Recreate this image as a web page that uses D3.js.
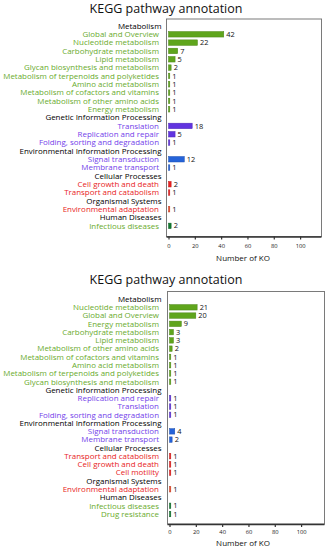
<!DOCTYPE html>
<html>
<head>
<meta charset="utf-8">
<script src="https://cdn.jsdelivr.net/npm/d3@7"></script>
<style>
  body { margin: 0; background: #fff; }
  svg { display: block; font-family: "Open Sans", "DejaVu Sans", sans-serif; }
</style>
</head>
<body>
<svg id="chart" width="329" height="550"></svg>
<script>
// 数据：上图
const pathways1 = ["Global and Overview", "Nucleotide metabolism", "Carbohydrate metabolism", "Lipid metabolism",
  "Glycan biosynthesis and metabolism", "Metabolism of terpenoids and polyketides", "Amino acid metabolism",
  "Metabolism of cofactors and vitamins", "Metabolism of other amino acids", "Energy metabolism",
  "Translation", "Replication and repair", "Folding, sorting and degradation",
  "Signal transduction", "Membrane transport",
  "Cell growth and death", "Transport and catabolism",
  "Environmental adaptation",
  "Infectious diseases"];
const counts1 = [42, 22, 7, 5, 2, 1, 1, 1, 1, 1, 18, 5, 1, 12, 1, 2, 1, 1, 2];
const groups1 = ["Metabolism", "Metabolism", "Metabolism", "Metabolism", "Metabolism", "Metabolism", "Metabolism",
  "Metabolism", "Metabolism", "Metabolism",
  "Genetic Information Processing", "Genetic Information Processing", "Genetic Information Processing",
  "Environmental Information Processing", "Environmental Information Processing",
  "Cellular Processes", "Cellular Processes",
  "Organismal Systems",
  "Human Diseases"];

// 数据：下图
const pathways2 = ["Nucleotide metabolism", "Global and Overview", "Energy metabolism", "Carbohydrate metabolism",
  "Lipid metabolism", "Metabolism of other amino acids", "Metabolism of cofactors and vitamins",
  "Amino acid metabolism", "Metabolism of terpenoids and polyketides", "Glycan biosynthesis and metabolism",
  "Replication and repair", "Translation", "Folding, sorting and degradation",
  "Signal transduction", "Membrane transport",
  "Transport and catabolism", "Cell growth and death", "Cell motility",
  "Environmental adaptation",
  "Infectious diseases", "Drug resistance"];
const counts2 = [21, 20, 9, 3, 3, 2, 1, 1, 1, 1, 1, 1, 1, 4, 2, 1, 1, 1, 1, 1, 1];
const groups2 = ["Metabolism", "Metabolism", "Metabolism", "Metabolism", "Metabolism", "Metabolism", "Metabolism",
  "Metabolism", "Metabolism", "Metabolism",
  "Genetic Information Processing", "Genetic Information Processing", "Genetic Information Processing",
  "Environmental Information Processing", "Environmental Information Processing",
  "Cellular Processes", "Cellular Processes", "Cellular Processes",
  "Organismal Systems",
  "Human Diseases", "Human Diseases"];

const xTicks = [0, 20, 40, 60, 80, 100];

// 样式
const labelColor = {
  "Metabolism": "#6aab2e",
  "Genetic Information Processing": "#7342ea",
  "Environmental Information Processing": "#7342ea",
  "Cellular Processes": "#e81c1c",
  "Organismal Systems": "#e81c1c",
  "Human Diseases": "#6aab2e"
};
const barFill = {
  "Metabolism": "#5fa51c",
  "Genetic Information Processing": "#6234e0",
  "Environmental Information Processing": "#2563d9",
  "Cellular Processes": "#ec2020",
  "Organismal Systems": "#ec4a2a",
  "Human Diseases": "#137a30"
};

const svg = d3.select("#chart");

// 让最长的标签宽度接近原图（约 156px）
function fitFontSize(text, targetWidth) {
  const probe = svg.append("text").style("font-size", "10px").text(text);
  const w = probe.node().getComputedTextLength();
  probe.remove();
  return 10 * targetWidth / w;
}
const labelSize = fitFontSize("Metabolism of terpenoids and polyketides", 156);

/**
 * 绘制一个面板
 */
function drawPanel(opt) {
  const { pathways, counts, groups, titleY, top, bottom, left, right, rowTop, rowStep, tickY, xTitleY } = opt;

  // 插入分组标题行
  let rows = [];
  groups.forEach((g, i) => {
    if (i === 0 || groups[i - 1] !== g) rows.push({ header: true, label: g, group: g });
    rows.push({ header: false, label: pathways[i], value: counts[i], group: g });
  });
  rows.forEach((r, i) => r.idx = i);

  const y = d3.scaleBand()
    .domain(rows.map(r => r.idx))
    .range([rowTop, rowTop + rowStep * rows.length])
    .paddingInner(0.34)
    .paddingOuter(0.17);

  const unit = 1.316;
  const x0 = left + 2;
  const x = d3.scaleLinear()
    .domain([0, (right - x0) / unit])
    .range([x0, right]);

  const g = svg.append("g");

  g.append("text")
    .attr("x", 166)
    .attr("y", titleY)
    .attr("text-anchor", "middle")
    .style("font-size", "12.5px")
    .style("fill", "#111")
    .text("KEGG pathway annotation");

  // 边框
  g.append("rect")
    .attr("x", left)
    .attr("y", top)
    .attr("width", right - left)
    .attr("height", bottom - top)
    .style("fill", "none")
    .style("stroke", "#7a7a7a")
    .style("stroke-width", 1);

  // 横轴
  const axis = g.append("g")
    .attr("transform", `translate(0,${bottom})`)
    .call(d3.axisBottom(x).tickValues(xTicks).tickSize(3).tickPadding(3));
  axis.select(".domain").attr("stroke", "#333").attr("stroke-width", 1.3)
    .attr("d", `M${left},0.5H${right}`);
  axis.selectAll(".tick line").attr("stroke", "#333").attr("stroke-width", 1.2);
  axis.selectAll(".tick text")
    .attr("y", tickY - bottom)
    .attr("dy", "0.35em")
    .style("font-size", "5.8px")
    .style("font-family", "\"Open Sans\", sans-serif")
    .style("fill", "#222");

  g.append("text")
    .attr("x", 243)
    .attr("y", xTitleY)
    .attr("dy", "0.35em")
    .attr("text-anchor", "middle")
    .style("font-size", "8px")
    .style("fill", "#111")
    .text("Number of KO");

  // 标签
  g.selectAll(".rowLabel")
    .data(rows)
    .enter()
    .append("text")
    .attr("class", "rowLabel")
    .attr("x", d => d.header ? 161.5 : 159)
    .attr("y", d => y(d.idx) + y.bandwidth() / 2)
    .attr("dy", "0.35em")
    .attr("text-anchor", "end")
    .style("font-size", `${labelSize}px`)
    .style("fill", d => d.header ? "#000" : labelColor[d.group])
    .text(d => d.label);

  const items = rows.filter(r => !r.header);

  // 柱子
  g.selectAll(".bar")
    .data(items)
    .enter()
    .append("rect")
    .attr("class", "bar")
    .attr("x", x(0))
    .attr("y", d => y(d.idx))
    .attr("width", d => Math.max(x(d.value) - x(0), 1.2))
    .attr("height", y.bandwidth())
    .style("fill", d => barFill[d.group])
    .style("stroke", d => d3.color(barFill[d.group]).darker(0.6))
    .style("stroke-width", 0.5);

  // 数值
  g.selectAll(".valueLabel")
    .data(items)
    .enter()
    .append("text")
    .attr("class", "valueLabel")
    .attr("x", d => x(d.value) + 2.5)
    .attr("y", d => y(d.idx) + y.bandwidth() / 2)
    .attr("dy", "0.35em")
    .style("font-size", "7.4px")
    .style("fill", "#111")
    .text(d => d.value);
}

drawPanel({
  pathways: pathways1, counts: counts1, groups: groups1,
  titleY: 13, top: 19, bottom: 236.5, left: 166.5, right: 321.5,
  rowTop: 21.8, rowStep: 8.33, tickY: 246, xTitleY: 258
});

drawPanel({
  pathways: pathways2, counts: counts2, groups: groups2,
  titleY: 283.5, top: 291.5, bottom: 524, left: 167.5, right: 324.5,
  rowTop: 294.9, rowStep: 8.27, tickY: 532, xTitleY: 543.5
});
</script>
</body>
</html>
